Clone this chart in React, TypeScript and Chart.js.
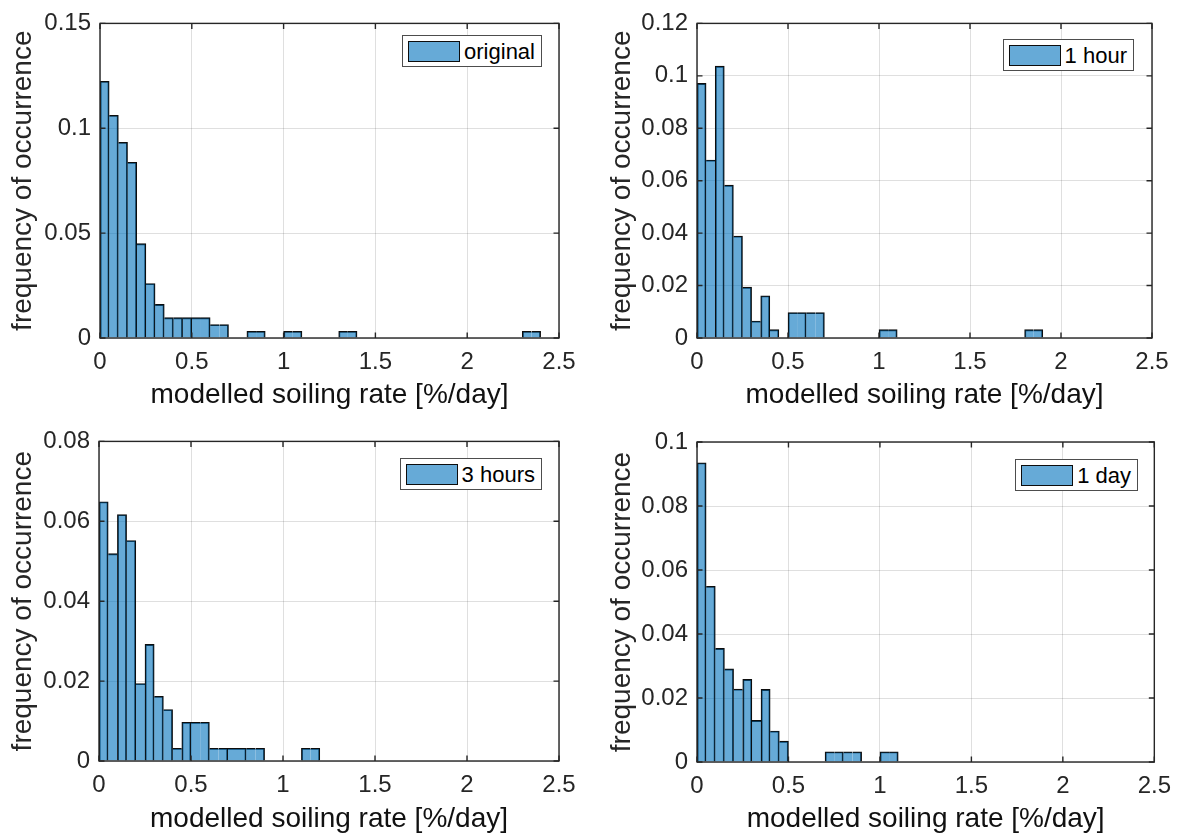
import React, { useEffect, useRef } from "react";
import { Chart, registerables } from "chart.js";

Chart.register(...registerables);

// ---------- data ----------
// histogram bin edges (0.05 wide up to 0.5, 0.1 wide afterwards)
const binEdges = [0, 0.05, 0.1, 0.15, 0.2, 0.25, 0.3, 0.35, 0.4, 0.45, 0.5, 0.6, 0.7, 0.8, 0.9, 1.0, 1.1, 1.2, 1.3, 1.4, 1.5, 1.6, 1.7, 1.8, 1.9, 2.0, 2.1, 2.2, 2.3, 2.4];

const freqOriginal = [0.1224, 0.1062, 0.0933, 0.0838, 0.0450, 0.0260, 0.0160, 0.0097, 0.0097, 0.0097, 0.0097, 0.0064, 0, 0.0032, 0, 0.0032, 0, 0, 0.0032, 0, 0, 0, 0, 0, 0, 0, 0, 0, 0.0032];
const freq1Hour = [0.0971, 0.0679, 0.1037, 0.0583, 0.0389, 0.0194, 0.0065, 0.0161, 0.0032, 0, 0.0097, 0.0097, 0, 0, 0, 0.0032, 0, 0, 0, 0, 0, 0, 0, 0.0032, 0, 0, 0, 0, 0];
const freq3Hours = [0.0649, 0.0519, 0.0617, 0.0552, 0.0194, 0.0292, 0.0162, 0.0129, 0.0032, 0.0097, 0.0097, 0.0032, 0.0032, 0.0032, 0, 0, 0.0032, 0, 0, 0, 0, 0, 0, 0, 0, 0, 0, 0, 0];
const freq1Day = [0.0935, 0.0549, 0.0355, 0.0291, 0.0228, 0.0258, 0.0130, 0.0227, 0.0097, 0.0065, 0, 0, 0.0032, 0.0032, 0, 0.0032, 0, 0, 0, 0, 0, 0, 0, 0, 0, 0, 0, 0, 0];

const seriesLabels = ["original", "1 hour", "3 hours", "1 day"];
const yMaxes = [0.15, 0.12, 0.08, 0.1];
const ySteps = [0.05, 0.02, 0.02, 0.02];
const xMin = 0;
const xMax = 2.5;
const xStep = 0.5;
const xTitle = "modelled soiling rate [%/day]";
const yTitle = "frequency of occurrence";

// ---------- layout / style ----------
const FONT = "'Liberation Sans', Arial, Helvetica, sans-serif";
const TEXT = "#262626";
const BAR_FILL = "rgba(0,114,189,0.6)";
const BAR_EDGE = "#0d0d0d";
const SUB = 0.05;
const EDGE_W = 1.2;
const TICK_LEN = 5.5;

const layouts = [
  { canvas: { left: 0, top: 0, width: 590, height: 418 }, area: { left: 100, top: 17, right: 559, bottom: 338 }, yTitleX: 23, xTitleY: 395.3, legend: { right: 639, top: 35 } },
  { canvas: { left: 597, top: 0, width: 584, height: 418 }, area: { left: 697, top: 23, right: 1152, bottom: 338 }, yTitleX: 622, xTitleY: 395.3, legend: { right: 47, top: 39 } },
  { canvas: { left: 0, top: 418, width: 590, height: 418 }, area: { left: 99, top: 439, right: 559, bottom: 761 }, yTitleX: 23, xTitleY: 818.8, legend: { right: 639, top: 458 } },
  { canvas: { left: 597, top: 418, width: 584, height: 418 }, area: { left: 697, top: 442, right: 1156, bottom: 762 }, yTitleX: 622, xTitleY: 818.8, legend: { right: 43, top: 459 } },
];

type Pt = { x: number; y: number; drawLeft: boolean; drawRight: boolean };

// Each bin boundary is outlined once, by the taller of the two neighbouring bins.
function buildBars(values: number[]): Pt[] {
  const pts: Pt[] = [];
  for (let i = 0; i < values.length; i++) {
    const v = values[i];
    if (!v) continue;
    const lo = binEdges[i];
    const hi = binEdges[i + 1];
    const n = Math.max(1, Math.round((hi - lo) / SUB));
    const w = (hi - lo) / n;
    const prev = i > 0 ? values[i - 1] || 0 : 0;
    const next = i + 1 < values.length ? values[i + 1] || 0 : 0;
    for (let k = 0; k < n; k++) {
      pts.push({
        x: lo + (k + 0.5) * w,
        y: v,
        drawLeft: k === 0 && v > prev,
        drawRight: k === n - 1 && v >= next,
      });
    }
  }
  return pts;
}

const fmt = (v: number) => String(Number(Number(v).toFixed(4)));

const axisBoxPlugin = {
  id: "axisBox",
  afterDatasetsDraw(chart: any) {
    const { ctx, chartArea, scales } = chart;
    const { left, top, right, bottom } = chartArea;
    const x = scales.x;
    const y = scales.y;
    ctx.save();
    ctx.strokeStyle = TEXT;
    ctx.lineWidth = 1.4;
    ctx.beginPath();
    x.ticks.forEach((t: any) => {
      const px = x.getPixelForValue(t.value);
      ctx.moveTo(px, bottom);
      ctx.lineTo(px, bottom - TICK_LEN);
      ctx.moveTo(px, top);
      ctx.lineTo(px, top + TICK_LEN);
    });
    y.ticks.forEach((t: any) => {
      const py = y.getPixelForValue(t.value);
      ctx.moveTo(left, py);
      ctx.lineTo(left + TICK_LEN, py);
      ctx.moveTo(right, py);
      ctx.lineTo(right - TICK_LEN, py);
    });
    ctx.stroke();
    ctx.strokeRect(left, top, right - left, bottom - top);
    ctx.restore();
  },
};

function Panel({ idx, values }: { idx: number; values: number[] }) {
  const ref = useRef<HTMLCanvasElement | null>(null);
  const L = layouts[idx];
  useEffect(() => {
    if (!ref.current) return;
    const c = L.canvas;
    const a = L.area;
    const chart = new Chart(ref.current, {
      type: "bar",
      data: {
        datasets: [
          {
            label: seriesLabels[idx],
            data: buildBars(values) as any,
            backgroundColor: BAR_FILL,
            borderColor: BAR_EDGE,
            borderSkipped: false,
            borderWidth: (ctx: any) => {
              const p = ctx.raw as Pt;
              if (!p) return 0;
              return {
                top: EDGE_W,
                bottom: 0,
                left: p.drawLeft ? EDGE_W : 0,
                right: p.drawRight ? EDGE_W : 0,
              };
            },
            barPercentage: 1,
            categoryPercentage: 1,
          } as any,
        ],
      },
      options: {
        responsive: false,
        animation: false,
        devicePixelRatio: 1,
        events: [],
        layout: {
          padding: {
            left: 0,
            top: a.top - c.top,
            right: c.left + c.width - a.right,
            bottom: 0,
          },
        },
        plugins: {
          legend: { display: false },
          tooltip: { enabled: false },
          title: { display: false },
        },
        scales: {
          x: {
            type: "linear",
            min: xMin,
            max: xMax,
            offset: false,
            afterFit: (s: any) => {
              s.height = c.top + c.height - a.bottom;
            },
            grid: { color: "rgba(38,38,38,0.15)", lineWidth: 1, drawTicks: false, offset: false },
            border: { display: false },
            ticks: {
              stepSize: xStep,
              padding: 10,
              color: TEXT,
              font: { family: FONT, size: 24 },
              maxRotation: 0,
              callback: (v: any) => fmt(v),
            },
            title: {
              display: true,
              text: xTitle,
              color: "#111111",
              font: { family: FONT, size: 28 },
              padding: { top: 0, bottom: c.top + c.height - L.xTitleY - 16.8 },
            },
          },
          y: {
            type: "linear",
            min: 0,
            max: yMaxes[idx],
            afterFit: (s: any) => {
              s.width = a.left - c.left;
            },
            grid: { color: "rgba(38,38,38,0.15)", lineWidth: 1, drawTicks: false },
            border: { display: false },
            ticks: {
              stepSize: ySteps[idx],
              padding: 9,
              color: TEXT,
              font: { family: FONT, size: 24 },
              callback: (v: any) => fmt(v),
            },
            title: {
              display: true,
              text: yTitle,
              color: TEXT,
              font: { family: FONT, size: 28 },
              padding: { top: L.yTitleX - c.left - 16.8, bottom: 0 },
            },
          },
        },
      } as any,
      plugins: [axisBoxPlugin],
    });
    return () => chart.destroy();
  }, [idx, values]);

  const c = L.canvas;
  return (
    <>
      <canvas
        ref={ref}
        width={c.width}
        height={c.height}
        style={{ position: "absolute", left: c.left, top: c.top, width: c.width, height: c.height }}
      />
      <div
        style={{
          position: "absolute",
          right: L.legend.right,
          top: L.legend.top,
          display: "flex",
          alignItems: "center",
          background: "#ffffff",
          border: "1px solid #4d4d4d",
          padding: "5px 6px 4px 5px",
          fontFamily: FONT,
          fontSize: 22,
          lineHeight: "21px",
          color: "#000000",
          whiteSpace: "nowrap",
        }}
      >
        <div
          style={{
            width: 50,
            height: 19,
            background: "#66aad7",
            border: "1px solid #0d0d0d",
            marginRight: 4,
          }}
        />
        <span>{seriesLabels[idx]}</span>
      </div>
    </>
  );
}

export default function App() {
  return (
    <div
      style={{
        position: "absolute",
        left: 0,
        top: 0,
        width: 1181,
        height: 836,
        background: "#ffffff",
        overflow: "hidden",
      }}
    >
      <Panel idx={0} values={freqOriginal} />
      <Panel idx={1} values={freq1Hour} />
      <Panel idx={2} values={freq3Hours} />
      <Panel idx={3} values={freq1Day} />
    </div>
  );
}
